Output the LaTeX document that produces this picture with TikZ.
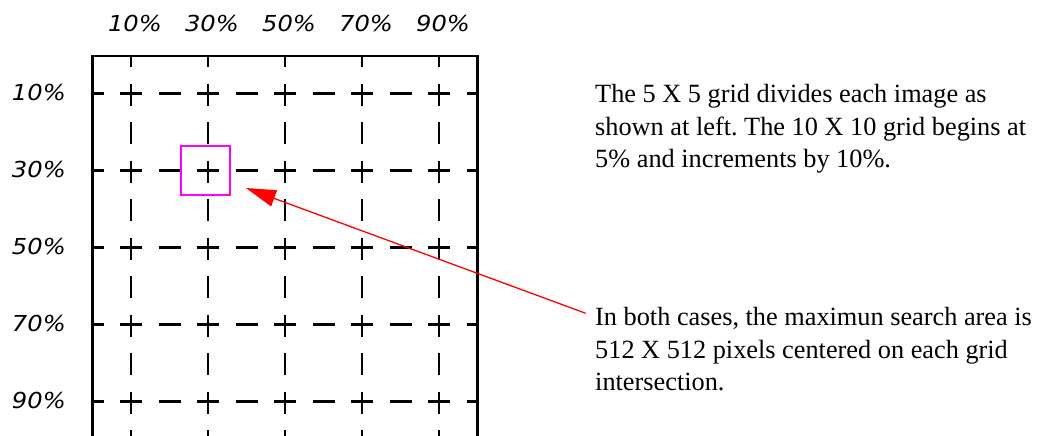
\documentclass[tikz,border=0pt]{standalone}
\usepackage{fontspec}
\setmainfont{Liberation Serif}
\newfontfamily\labfont{DejaVu Sans}
\usetikzlibrary{arrows.meta}
\definecolor{puremagenta}{RGB}{255,0,255}
\definecolor{purered}{RGB}{255,0,0}
\tikzset{
  gridline/.style={line width=2.1pt, dash pattern=on 22pt off 16.5pt, dash phase=11pt},
  frameline/.style={line width=2.2pt},
  pct/.style={font=\labfont\itshape\fontsize{22}{24}\selectfont, inner sep=0pt, xscale=1.1},
  note/.style={font=\frenchspacing\fontsize{26.3}{32.3}\selectfont, align=left, inner sep=0pt, anchor=base west},
  hilite/.style={draw=puremagenta, line width=1.7pt, minimum size=49pt, inner sep=0pt},
  pointer/.style={draw=purered, line width=1.3pt, -{Triangle[length=30pt, width=17pt]}}
}
\begin{document}
\begin{tikzpicture}[x=1pt, y=-1pt]
\useasboundingbox (0,0) rectangle (1044,436);
\begin{scope}
\clip (0,0) rectangle (1044,436);
% frame
\draw[frameline] (92.5,480) -- (92.5,56) -- (477.5,56) -- (477.5,480);
% vertical grid lines
\foreach \i in {0,...,4} {
  \draw[gridline] (131+77*\i,56) -- (131+77*\i,480);
}
% horizontal grid lines
\foreach \j in {0,...,4} {
  \draw[gridline] (92.5,93.5+77*\j) -- (477.5,93.5+77*\j);
}
\end{scope}
% top labels
\foreach \p [count=\k from 0] in {10,30,50,70,90} {
  \node[pct, anchor=base] (top\p) at (135+77*\k,32) {\p\%};
}
% left labels
\foreach \p [count=\k from 0] in {10,30,50,70,90} {
  \node[pct, anchor=east] (left\p) at (66,92+77*\k) {\p\%};
}
% highlight square
\node[hilite] (sq) at (205.5,170.5) {};
% texts (base anchor = baseline of last line)
\node[note] (t1) at (595,167.3) {The 5 X 5 grid divides each image as\\shown at left. The 10 X 10 grid begins at\\5\% and increments by 10\%.};
\node[note] (t2) at (595,390.3) {In both cases, the maximun search area is\\512 X 512 pixels centered on each grid\\intersection.};
\coordinate (from) at (585.7,313.3);
\coordinate (tip) at (246,188);
\draw[pointer] (from) -- (tip);
\end{tikzpicture}
\end{document}
